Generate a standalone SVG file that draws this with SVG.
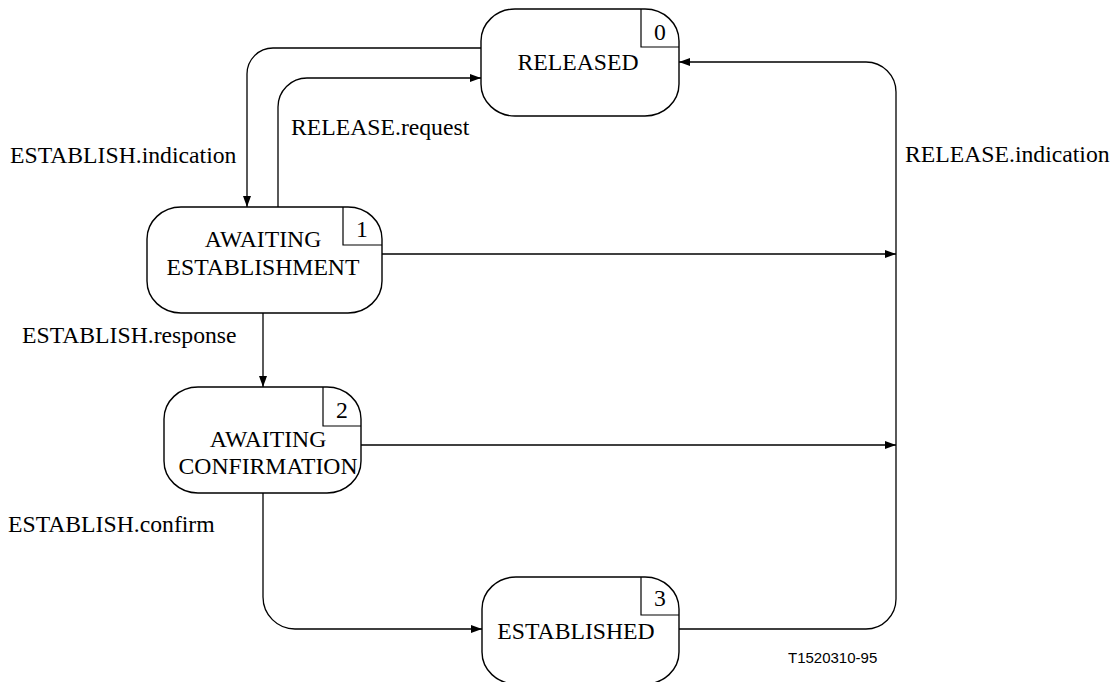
<svg xmlns="http://www.w3.org/2000/svg" width="1117" height="682" viewBox="0 0 1117 682">
<defs>
<marker id="arr" viewBox="0 0 11 8" refX="11" refY="4" markerWidth="11" markerHeight="8" markerUnits="userSpaceOnUse" orient="auto">
<path d="M0,0 L11,4 L0,8 z" fill="#000"/>
</marker>
<style>
.st{fill:#fff;stroke:#000;stroke-width:1.4}
.nb{fill:none;stroke:#000;stroke-width:1.2}
.t{font-family:"Liberation Serif","Times New Roman",serif;font-size:23.7px;fill:#000}
.c{text-anchor:middle}
.ln{fill:none;stroke:#000;stroke-width:1.3}
.code{font-family:"Liberation Sans",Arial,sans-serif;font-size:15px;fill:#000}
</style>
</defs>
<rect width="1117" height="682" fill="#fff"/>
<g id="connectors">
<path class="ln" d="M481,48 L273,48 A26,26 0 0 0 247,74 L247,207" marker-end="url(#arr)"/>
<path class="ln" d="M278,207 L278,107 A29,29 0 0 1 307,78 L481,78" marker-end="url(#arr)"/>
<path class="ln" d="M382,254 L896,254" marker-end="url(#arr)"/>
<path class="ln" d="M263,313 L263,387" marker-end="url(#arr)"/>
<path class="ln" d="M361,445 L896,445" marker-end="url(#arr)"/>
<path class="ln" d="M263,493 L263,597 A32,32 0 0 0 295,629 L482,629" marker-end="url(#arr)"/>
<path class="ln" d="M679,629 L866,629 A30,30 0 0 0 896,599 L896,92 A30,30 0 0 0 866,62 L679,62" marker-end="url(#arr)"/>
</g>
<g id="n0">
<rect class="st" x="481" y="9" width="198" height="107" rx="34" ry="32"/>
<path class="nb" d="M641,9 L641,47 L679,47"/>
<text class="t c" x="660" y="40">0</text>
<text class="t c" x="578" y="70">RELEASED</text>
</g>
<g id="n1">
<rect class="st" x="147" y="207" width="235" height="106" rx="34" ry="32"/>
<path class="nb" d="M343,207 L343,245 L382,245"/>
<text class="t c" x="362" y="237">1</text>
<text class="t c" x="263" y="247">AWAITING</text>
<text class="t c" x="263" y="275">ESTABLISHMENT</text>
</g>
<g id="n2">
<rect class="st" x="164" y="387" width="197" height="106" rx="34" ry="32"/>
<path class="nb" d="M323,387 L323,426 L361,426"/>
<text class="t c" x="342" y="418">2</text>
<text class="t c" x="268" y="447">AWAITING</text>
<text class="t c" x="268" y="474">CONFIRMATION</text>
</g>
<g id="n3">
<rect class="st" x="482" y="577" width="197" height="107" rx="34" ry="32"/>
<path class="nb" d="M641,577 L641,615 L679,615"/>
<text class="t c" x="660" y="606">3</text>
<text class="t c" x="576" y="639">ESTABLISHED</text>
</g>
<g id="labels">
<text class="t" x="10" y="163">ESTABLISH.indication</text>
<text class="t" x="291" y="135">RELEASE.request</text>
<text class="t" x="905" y="162">RELEASE.indication</text>
<text class="t" x="22" y="343">ESTABLISH.response</text>
<text class="t" x="8" y="532">ESTABLISH.confirm</text>
<text class="code" x="788" y="663">T1520310-95</text>
</g>
</svg>
